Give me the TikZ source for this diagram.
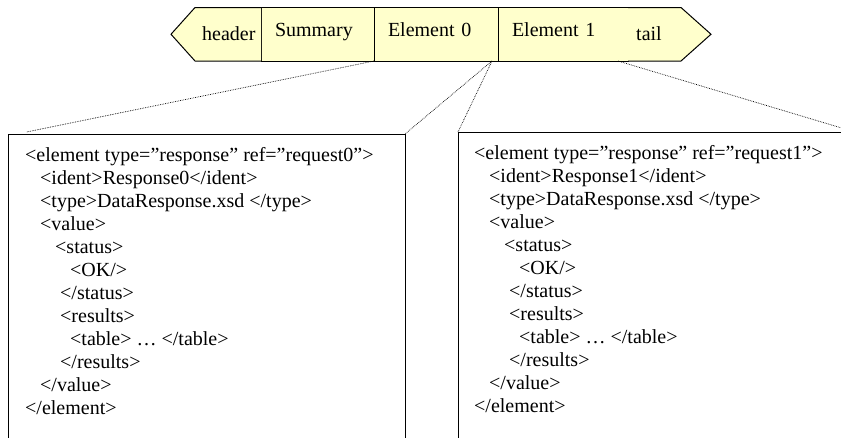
\documentclass[tikz,border=0pt]{standalone}
\usepackage{fontspec}
\setmainfont{Liberation Serif}
\usetikzlibrary{positioning}
\usetikzlibrary{calc}
\definecolor{cellfill}{RGB}{255,255,204}
\tikzstyle{every node}=[font=\fontsize{20}{23}\selectfont]
\tikzstyle{cellline}=[draw,fill=cellfill,line width=1pt,line join=miter]
\tikzstyle{cell}=[cellline,anchor=north west,outer sep=0pt,inner ysep=0pt,
  inner xsep=14pt,minimum height=53.5pt,align=left,text height=14pt,text depth=9pt]
\tikzstyle{xmlbox}=[draw,line width=1pt,anchor=north west,inner sep=0pt,outer sep=0pt,
  minimum height=330pt]
\tikzstyle{link}=[densely dotted,line width=0.7pt]
\newcommand{\xmlind}[1]{\hspace*{#1pt}}

\begin{document}
\begin{tikzpicture}[x=1pt,y=-1pt]
  \useasboundingbox (0,0) rectangle (841,437);
  \clip (0,0) rectangle (841,437);
  % message bar
  \node[cell,text width=85pt] (summary) at (261,7.5) {Summary};
  \node[cell,text width=96pt,right=0pt of summary] (el0) {Element 0};
  \node[cell,text width=102pt,right=0pt of el0] (el1) {Element 1};
  \filldraw[cellline] (summary.north west) -- ++(-66,0) -- ++(-24,26.75)
    -- ++(24,26.75) -- (summary.south west);
  \filldraw[cellline] (el1.north east) -- ++(53,0) -- ++(30,26.75)
    -- ++(-30,26.75) -- (el1.south east);
  \node[anchor=base west,inner sep=0pt] (hdr) at (202,40) {header};
  \node[anchor=base west,inner sep=0pt] (tail) at (636,40) {tail};
  % the two elements
  \node[xmlbox,minimum width=396.5pt] (box0) at (8.5,134) {};
  \node[xmlbox,minimum width=397pt] (box1) at (458,132) {};
  \node[anchor=base west,inner sep=0pt,align=left] (xml0) at (25,414) {%
    <element type=”response” ref=”request0”>\\
    \xmlind{15}<ident>Response0</ident>\\
    \xmlind{15}<type>DataResponse.xsd </type>\\
    \xmlind{15}<value>\\
    \xmlind{30}<status>\\
    \xmlind{45}<OK/>\\
    \xmlind{35}</status>\\
    \xmlind{35}<results>\\
    \xmlind{45}<table> … </table>\\
    \xmlind{35}</results>\\
    \xmlind{15}</value>\\
    </element>};
  \node[anchor=base west,inner sep=0pt,align=left] (xml1) at (474,412) {%
    <element type=”response” ref=”request1”>\\
    \xmlind{15}<ident>Response1</ident>\\
    \xmlind{15}<type>DataResponse.xsd </type>\\
    \xmlind{15}<value>\\
    \xmlind{30}<status>\\
    \xmlind{45}<OK/>\\
    \xmlind{35}</status>\\
    \xmlind{35}<results>\\
    \xmlind{45}<table> … </table>\\
    \xmlind{35}</results>\\
    \xmlind{15}</value>\\
    </element>};
  % dotted zoom lines
  \draw[link] (el0.south west) -- ($(box0.north west)+(18,-2)$);
  \draw[link] ($(el1.south west)+(-6,0)$) -- (box0.north east);
  \draw[link] ($(el1.south west)+(-6,0)$) -- (box1.north west);
  \draw[link] ($(el1.south east)+(-10,0)$) -- (box1.north east);
\end{tikzpicture}
\end{document}
